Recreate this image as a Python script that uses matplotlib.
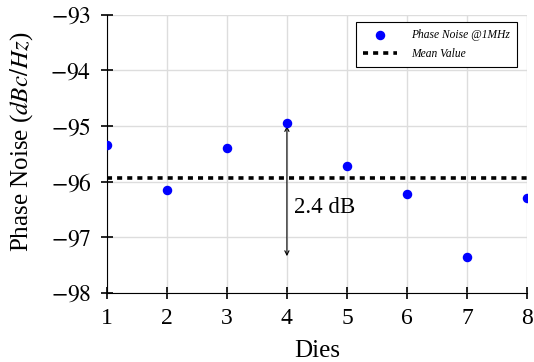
import matplotlib
matplotlib.use("Agg")
import matplotlib.pyplot as plt
import numpy as np

# data
dies = [1, 2, 3, 4, 5, 6, 7, 8]
phase_noise = [-95.34, -96.15, -95.40, -94.95, -95.72, -96.22, -97.36, -96.30]
yticks = [-93, -94, -95, -96, -97, -98]

plt.rcParams['font.family'] = ['Liberation Serif', 'DejaVu Serif']
plt.rcParams['mathtext.fontset'] = 'stix'

mean_val = np.mean(phase_noise)
spread = max(phase_noise) - min(phase_noise)

fig = plt.figure(figsize=(5.34, 3.62), dpi=100)
ax = fig.add_axes([0.2, 0.191, 0.787, 0.768])

ax.grid(True, color='#dddddd', linewidth=1.0, zorder=0)
ax.scatter(dies, phase_noise, color='blue', s=34, zorder=3,
           label='Phase Noise @1MHz')
ax.axhline(mean_val, color='black', linewidth=2.6, linestyle=(0, (1.4, 1.4)),
           zorder=2, label='Mean Value')

# spread annotation (double arrow)
y_top = max(phase_noise) - 0.05
y_bot = min(phase_noise) + 0.02
ax.annotate('', xy=(4, y_bot), xytext=(4, y_top),
            arrowprops=dict(arrowstyle='<->,head_length=0.3,head_width=0.15',
                            color='black', lw=0.8, shrinkA=0, shrinkB=0),
            zorder=2)
ax.text(4.11, -96.47, '%.1f dB' % spread, fontsize=16.5, va='center', ha='left')

ax.set_xlim(1, 8)
ax.set_ylim(-98, -93)
ax.set_xticks(dies)
ax.set_yticks(yticks)
ax.set_yticklabels([r'$-%d$' % abs(v) for v in yticks])
ax.tick_params(direction='inout', length=8, width=1.2, labelsize=17, pad=7)
for s in ['top', 'right']:
    ax.spines[s].set_visible(False)

ax.set_xlabel('Dies', fontsize=18, labelpad=8)
ax.set_ylabel(r'Phase Noise ($dBc/Hz$)', fontsize=18)
ax.yaxis.set_label_coords(-0.17, 0.543)

leg = ax.legend(loc='upper right', bbox_to_anchor=(0.99, 0.995),
                prop={'style': 'italic', 'size': 8.3},
                fancybox=False, edgecolor='black', framealpha=1,
                handlelength=3.0, borderpad=0.6, labelspacing=0.6,
                handletextpad=1.2)
leg.get_frame().set_linewidth(0.8)

fig.savefig('out.png', dpi=100)
